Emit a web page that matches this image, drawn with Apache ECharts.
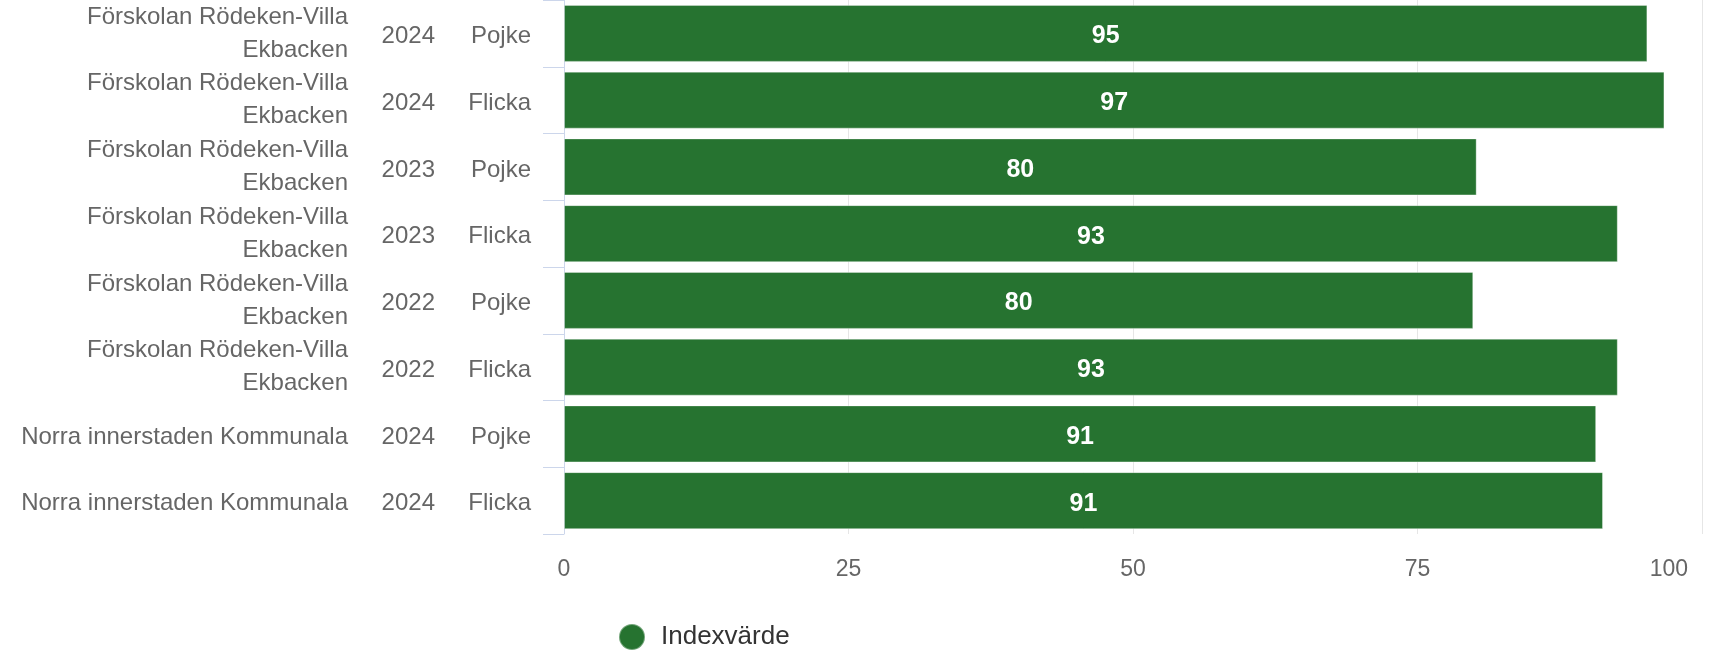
<!DOCTYPE html>
<html>
<head>
<meta charset="utf-8">
<script src="https://cdn.jsdelivr.net/npm/echarts@6/dist/echarts.min.js"></script>
<style>html,body{margin:0;padding:0;background:#fff}#c{width:1711px;height:654px}</style>
</head>
<body>
<div id="c"></div>
<script>
var units = ["Förskolan Rödeken-Villa\nEkbacken","Förskolan Rödeken-Villa\nEkbacken","Förskolan Rödeken-Villa\nEkbacken","Förskolan Rödeken-Villa\nEkbacken","Förskolan Rödeken-Villa\nEkbacken","Förskolan Rödeken-Villa\nEkbacken","Norra innerstaden Kommunala","Norra innerstaden Kommunala"];
var years = ["2024","2024","2023","2023","2022","2022","2024","2024"];
var genders = ["Pojke","Flicka","Pojke","Flicka","Pojke","Flicka","Pojke","Flicka"];
var indexValues = [95.2, 96.7, 80.2, 92.6, 79.9, 92.6, 90.7, 91.3];
var seriesName = "Indexvärde";
var xTicks = [0, 25, 50, 75, 100];

var FONT = "Liberation Sans, Arial, Helvetica, sans-serif";
var keys = genders.map(function(g, i){ return String(i); });
function catAxis(labels, margin, main) {
  return {
    type: 'category', position: 'left', inverse: true,
    data: keys,
    axisLine: { show: main, lineStyle: { color: '#ccd6eb', width: 1 } },
    axisTick: { show: main, length: 21, lineStyle: { color: '#ccd6eb', width: 1 } },
    axisLabel: {
      interval: 0, margin: margin, align: 'right',
      color: '#666666', fontSize: 24, fontFamily: FONT, lineHeight: 33,
      formatter: function(v){
        var t = labels[+v];
        return t.indexOf('\n') >= 0 ? t : '{s|' + t + '}';
      },
      rich: { s: { color: '#666666', fontSize: 24, fontFamily: FONT, padding: [6, 0, 0, 0] } }
    },
    splitLine: { show: false }
  };
}
var chart = echarts.init(document.getElementById('c'), null, { renderer: 'canvas' });
chart.setOption({
  animation: false,
  textStyle: { fontFamily: FONT },
  grid: { left: 564, right: 9, top: 0, bottom: 120, containLabel: false },
  xAxis: {
    type: 'value', min: xTicks[0], max: xTicks[xTicks.length - 1], interval: 25,
    axisLine: { show: false }, axisTick: { show: false },
    splitLine: { show: true, lineStyle: { color: '#e6e6e6', width: 1 } },
    axisLabel: {
      color: '#666666', fontSize: 23, fontFamily: FONT, margin: 24, alignMaxLabel: 'right',
      formatter: function(v){ return v === xTicks[xTicks.length - 1] ? '{m|' + v + '}' : String(v); },
      rich: { m: { color: '#666666', fontSize: 23, fontFamily: FONT, padding: [0, 14, 0, 0] } }
    }
  },
  yAxis: [ catAxis(genders, 33, true), catAxis(years, 129, false), catAxis(units, 216, false) ],
  legend: {
    data: [seriesName], left: 613, top: 618, icon: 'circle',
    itemWidth: 26, itemHeight: 26, itemGap: 10,
    textStyle: { color: '#333333', fontSize: 26, fontFamily: FONT, padding: [0, 0, 0, 11] }
  },
  series: [{
    name: seriesName, type: 'bar', yAxisIndex: 0,
    data: indexValues,
    barWidth: 57,
    itemStyle: { color: '#267330', borderColor: 'rgba(255,255,255,0.35)', borderWidth: 1 },
    label: {
      show: true, position: 'inside', color: '#ffffff', fontWeight: 'bold',
      fontSize: 25, fontFamily: FONT, offset: [0, 3],
      formatter: function(p){ return Math.round(p.value); }
    }
  }]
});
</script>
</body>
</html>
